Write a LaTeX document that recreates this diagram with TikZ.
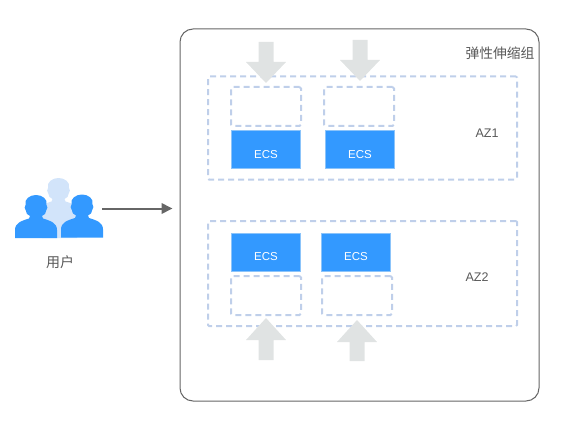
\documentclass[tikz,border=0pt]{standalone}
\usepackage{fontspec}
\setmainfont{Liberation Sans}
\newfontfamily\cjkfont{Noto Sans CJK SC}[Scale=1]
\usetikzlibrary{arrows.meta}
\definecolor{txtgray}{HTML}{595959}
\definecolor{framegray}{HTML}{666666}
\definecolor{dashblue}{HTML}{BFCFEA}
\definecolor{ecsblue}{HTML}{3399FF}
\definecolor{ecsedge}{HTML}{8CC4FA}
\definecolor{arrowgray}{HTML}{E0E3E3}
\definecolor{lightperson}{HTML}{D2E4FA}
\newcommand{\personpath}[3]{%
  \fill[#3,shift={(#1,#2)}] (-21,43) -- (-21,35)
    .. controls (-21,28) and (-15,26) .. (-7,23.5)
    -- (-6,21) .. controls (-9,20) and (-10,18) .. (-10,16)
    .. controls (-12,14) and (-11.5,11) .. (-10.5,10)
    .. controls (-12,4) and (-6,0) .. (0,0)
    .. controls (6,0) and (12,4) .. (10.5,10)
    .. controls (11.5,11) and (12,14) .. (10,16)
    .. controls (10,18) and (9,20) .. (6,21)
    -- (7,23.5) .. controls (15,26) and (21,28) .. (21,35)
    -- (21,43) -- cycle;}
\newcommand{\blockdown}[3]{% x centre, shaft top, tip
  \fill[arrowgray] (#1-7.5,#2) -- (#1+7.5,#2) -- (#1+7.5,#3-21) -- (#1+20,#3-21)
    -- (#1,#3) -- (#1-20,#3-21) -- (#1-7.5,#3-21) -- cycle;}
\newcommand{\blockup}[3]{% x centre, shaft bottom, tip
  \fill[arrowgray] (#1-7.5,#2) -- (#1+7.5,#2) -- (#1+7.5,#3+22) -- (#1+20,#3+22)
    -- (#1,#3) -- (#1-20,#3+22) -- (#1-7.5,#3+22) -- cycle;}
\tikzset{
  x=1pt,y=-1pt,
  framebox/.style={draw=framegray,line width=1pt,rounded corners=13pt,inner sep=0pt,minimum width=359pt,minimum height=372pt},
  azbox/.style={draw=dashblue,line width=2pt,dash pattern=on 6pt off 4pt,rounded corners=1pt,inner sep=0pt,minimum width=309pt},
  slotbox/.style={draw=dashblue,line width=2pt,dash pattern=on 6pt off 4pt,rounded corners=1.5pt,inner sep=0pt,minimum width=70pt,minimum height=39pt},
  ecsbox/.style={draw=ecsedge,line width=0.6pt,fill=ecsblue,text=white,font=\fontsize{11.5}{13}\selectfont,inner sep=0pt,minimum width=69pt,minimum height=38pt},
  lbl/.style={text=txtgray,inner sep=0pt},
}
\begin{document}
\begin{tikzpicture}
\useasboundingbox (0,0) rectangle (573,425);
\node[framebox] (group) at (359.5,215) {};
\node[lbl,font=\cjkfont\fontsize{13.8}{16}\selectfont] (grouplabel) at (500,53) {弹性伸缩组};
\node[azbox,minimum height=103pt] (az1) at (362.5,128) {};
\node[azbox,minimum height=105pt] (az2) at (362.5,273.5) {};
\node[lbl,font=\fontsize{12.5}{14}\selectfont] (az1label) at (487,133.5) {AZ1};
\node[lbl,font=\fontsize{12.5}{14}\selectfont] (az2label) at (477,277.5) {AZ2};
\node[slotbox] (s1) at (266,106.5) {};
\node[slotbox] (s2) at (359,106.5) {};
\node[slotbox] (s3) at (266,295.5) {};
\node[slotbox] (s4) at (357,295.5) {};
\node[ecsbox] (e1) at (266,149.5) {\smash{\raisebox{-9pt}{ECS}}};
\node[ecsbox] (e2) at (360,149.5) {\smash{\raisebox{-9pt}{ECS}}};
\node[ecsbox] (e3) at (266,252.5) {\smash{\raisebox{-7.5pt}{ECS}}};
\node[ecsbox] (e4) at (356,252.5) {\smash{\raisebox{-7.5pt}{ECS}}};
\blockdown{266}{42}{83}
\blockdown{360}{40}{81}
\blockup{266}{360}{318}
\blockup{357}{361}{320}
\personpath{58.5}{178}{lightperson}
\fill[lightperson] (42,238) -- (42,209) .. controls (44,206) and (48,205) .. (52,204) -- (65,204) .. controls (70,205) and (74,206) .. (77,209) -- (77,238) -- cycle;
\personpath{36}{195}{ecsblue}
\personpath{82}{194.5}{ecsblue}
\node[lbl,font=\cjkfont\fontsize{14}{16}\selectfont] (userlabel) at (60,262) {用户};
\coordinate (userend) at (102,208.5);
\coordinate (groupend) at (172.5,208.5);
\draw[draw=framegray,line width=2pt,-{Triangle[length=11pt,width=10.5pt]}] (userend) -- (groupend);
\end{tikzpicture}
\end{document}
